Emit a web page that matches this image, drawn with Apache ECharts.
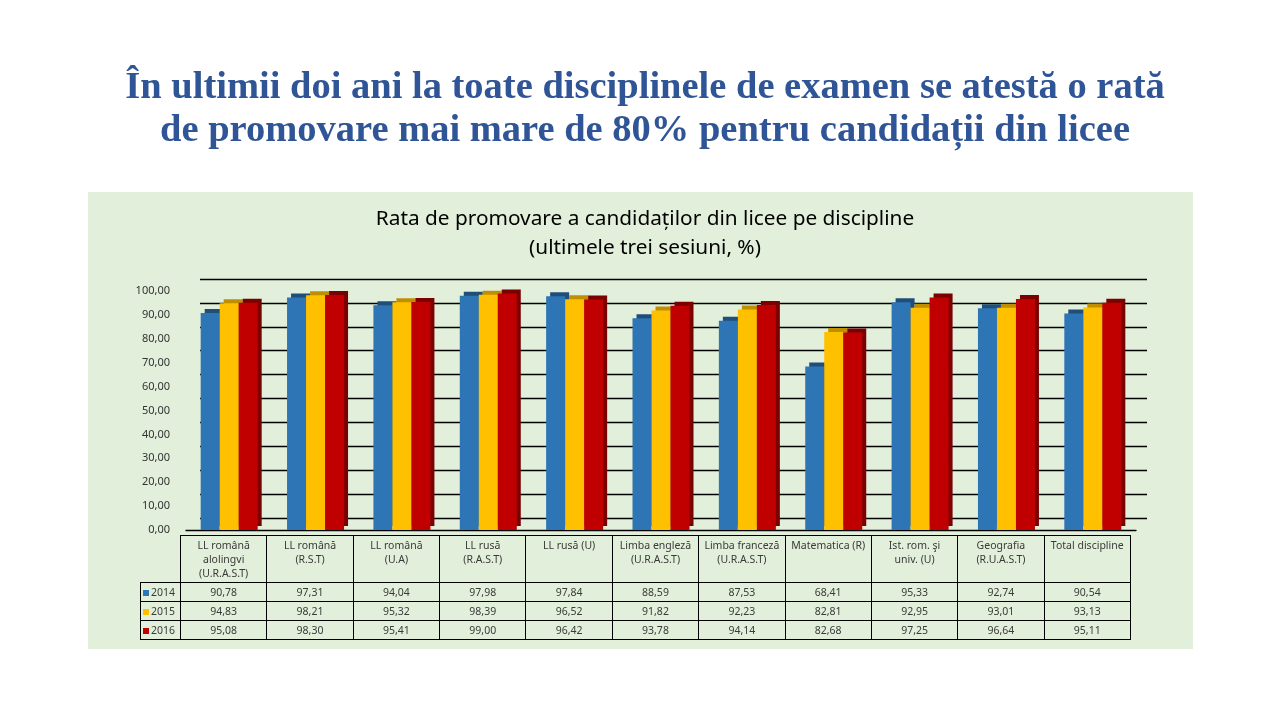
<!DOCTYPE html>
<html>
<head>
<meta charset="utf-8">
<script src="https://cdn.jsdelivr.net/npm/echarts@6/dist/echarts.min.js"></script>
<style>
html,body{margin:0;padding:0;background:#fff;width:1280px;height:720px;overflow:hidden;}
#panel{position:absolute;left:88px;top:192px;width:1105px;height:457px;background:#E2EFDA;}
#chart{position:absolute;left:0;top:0;width:1280px;height:720px;}
#tbl{position:absolute;left:140px;top:535px;border-collapse:collapse;font-family:'Noto Sans',sans-serif;font-size:10.5px;color:#3a3a3a;table-layout:fixed;}
#tbl td{border:1px solid #000;text-align:center;padding:0;}
#tbl tr.h td{vertical-align:top;height:44px;line-height:14px;padding-top:2px;}
#tbl tr.d td{height:18px;line-height:18px;}
#tbl td.k{text-align:left;padding-left:2px;}
#tbl td.e{border:none;}
.sq{display:inline-block;width:6px;height:6px;margin-right:2px;vertical-align:middle;}
</style>
</head>
<body>
<div id="panel"></div>
<div id="chart"></div>
<table id="tbl"></table>
<script>
const categories = [
  "LL română alolingvi (U.R.A.S.T)",
  "LL română (R.S.T)",
  "LL română (U.A)",
  "LL rusă (R.A.S.T)",
  "LL rusă (U)",
  "Limba engleză (U.R.A.S.T)",
  "Limba franceză (U.R.A.S.T)",
  "Matematica (R)",
  "Ist. rom. şi univ. (U)",
  "Geografia (R.U.A.S.T)",
  "Total discipline"
];
const headerLines = [
  ["LL română","alolingvi","(U.R.A.S.T)"],
  ["LL română","(R.S.T)"],
  ["LL română","(U.A)"],
  ["LL rusă","(R.A.S.T)"],
  ["LL rusă (U)"],
  ["Limba engleză","(U.R.A.S.T)"],
  ["Limba franceză","(U.R.A.S.T)"],
  ["Matematica (R)"],
  ["Ist. rom. şi","univ. (U)"],
  ["Geografia","(R.U.A.S.T)"],
  ["Total discipline"]
];
const seriesNames = ["2014","2015","2016"];
const v2014 = [90.78, 97.31, 94.04, 97.98, 97.84, 88.59, 87.53, 68.41, 95.33, 92.74, 90.54];
const v2015 = [94.83, 98.21, 95.32, 98.39, 96.52, 91.82, 92.23, 82.81, 92.95, 93.01, 93.13];
const v2016 = [95.08, 98.30, 95.41, 99.00, 96.42, 93.78, 94.14, 82.68, 97.25, 96.64, 95.11];
const yTicks = [0,10,20,30,40,50,60,70,80,90,100];

const colors = ["#2E75B6","#FFC000","#C00000"];
const sideColors = ["#1F4E79","#BF8F00","#7B0000"];
const values = [v2014, v2015, v2016];

const fmt = v => v.toFixed(2).replace('.', ',');

// table
const tbl = document.getElementById('tbl');
const colW = 950/11;
let html = '<colgroup><col style="width:40px">';
for (let i=0;i<categories.length;i++) html += '<col style="width:'+colW+'px">';
html += '</colgroup><tr class="h"><td class="e"></td>';
headerLines.forEach(l => { html += '<td>' + l.join('<br>') + '</td>'; });
html += '</tr>';
seriesNames.forEach((n,si) => {
  html += '<tr class="d"><td class="k"><span class="sq" style="background:'+colors[si]+'"></span>'+n+'</td>';
  values[si].forEach(v => { html += '<td>'+fmt(v)+'</td>'; });
  html += '</tr>';
});
tbl.innerHTML = html;
tbl.style.width = (40+950)+'px';

const chart = echarts.init(document.getElementById('chart'));
const opt = {
  backgroundColor: 'transparent',
  animation: false,
  title: [
    {text: 'În ultimii doi ani la toate disciplinele de examen se atestă o rată\nde promovare mai mare de 80% pentru candidații din licee',
     left: 640, top: 62, textAlign: 'center',
     textStyle: {fontFamily: 'Liberation Serif', fontWeight: 'bold', fontSize: 38.5, color: '#2F5597', lineHeight: 43}},
    {text: 'Rata de promovare a candidaților din licee pe discipline\n(ultimele trei sesiuni, %)',
     left: 640, top: 200, textAlign: 'center',
     textStyle: {fontFamily: 'Noto Sans', fontWeight: 'normal', fontSize: 20.8, color: '#000', lineHeight: 29}}
  ],
  grid: [
    {left: 186, right: 144, top: 291, bottom: 190},
    {left: 200, right: 133, top: 279, bottom: 202}
  ],
  xAxis: [
    {type: 'category', data: categories, gridIndex: 0,
     axisLine: {show: true, lineStyle: {color: '#000', width: 1.3}},
     axisTick: {show: false}, axisLabel: {show: false}},
    {type: 'category', data: categories, gridIndex: 1,
     axisLine: {show: false}, axisTick: {show: false}, axisLabel: {show: false}}
  ],
  yAxis: [
    {type: 'value', gridIndex: 0, min: 0, max: 100, interval: 10,
     axisLabel: {formatter: v => fmt(v), fontFamily: 'Noto Sans', fontSize: 11, color: '#333', margin: 16},
     axisLine: {show: false}, axisTick: {show: false}, splitLine: {show: false}},
    {type: 'value', gridIndex: 1, min: 0, max: 100, interval: 10,
     axisLabel: {show: false}, axisLine: {show: false}, axisTick: {show: false},
     splitLine: {show: true, lineStyle: {color: '#000', width: 1.3}}}
  ],
  series: seriesNames.map((n, i) => ({
    name: n, type: 'bar', xAxisIndex: 0, yAxisIndex: 0,
    data: values[i], barWidth: 19, barGap: '0%',
    itemStyle: {color: colors[i], shadowColor: sideColors[i], shadowOffsetX: 4, shadowOffsetY: -4, shadowBlur: 0}
  }))
};
chart.setOption(opt);
</script>
</body>
</html>
